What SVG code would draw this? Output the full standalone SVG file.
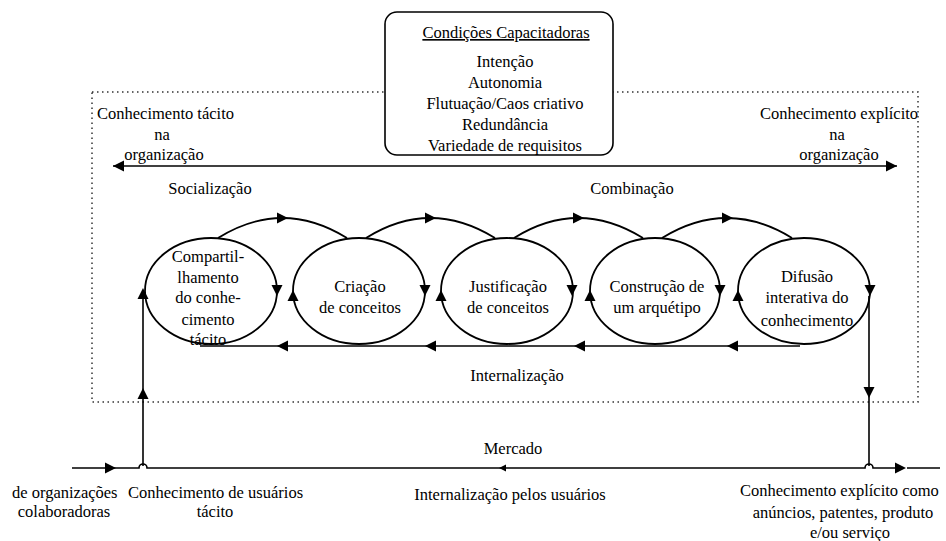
<svg xmlns="http://www.w3.org/2000/svg" width="946" height="541" viewBox="0 0 946 541">
<style>
text{font-family:'Liberation Serif','Times New Roman',serif;font-size:16.5px;fill:#000}
.m{text-anchor:middle}
.ln{stroke:#000;stroke-width:1.6;fill:none}
.el{stroke:#000;stroke-width:1.8;fill:none}
.dot{stroke:#333;stroke-width:1.5;fill:none;stroke-dasharray:1.5 3.5}
</style>
<defs>
<path id="ah" d="M0,0 L-11,-5.5 L-11,5.5 Z" fill="#000"/>
<path id="as" d="M0,0 L-7,-3.5 L-7,3.5 Z" fill="#000"/>
</defs>
<rect width="946" height="541" fill="#fff"/>
<rect id="frame" class="dot" x="92" y="92" width="826" height="310"/>
<g id="conditions">
<rect x="385" y="12" width="228" height="143" rx="12" fill="#fff" stroke="#000" stroke-width="1.6"/>
<text class="m" x="506" y="38" text-decoration="underline">Condições Capacitadoras</text>
<text class="m" x="505" y="67">Intenção</text>
<text class="m" x="505" y="88">Autonomia</text>
<text class="m" x="505" y="109">Flutuação/Caos criativo</text>
<text class="m" x="505" y="130">Redundância</text>
<text class="m" x="505" y="151">Variedade de requisitos</text>
</g>
<g id="tacit-org">
<text x="97" y="119">Conhecimento tácito</text>
<text class="m" x="162" y="140">na</text>
<text class="m" x="164" y="160">organização</text>
</g>
<g id="explicit-org">
<text x="760" y="119">Conhecimento explícito</text>
<text class="m" x="837" y="140">na</text>
<text class="m" x="839" y="160">organização</text>
</g>
<text class="m" x="210" y="194">Socialização</text>
<text class="m" x="632" y="194">Combinação</text>
<text class="m" x="517" y="381">Internalização</text>
<g id="n1">
<ellipse class="el" cx="211" cy="291" rx="66" ry="53"/>
<text class="m" x="208" y="262">Compartil-</text>
<text class="m" x="208" y="283">lhamento</text>
<text class="m" x="208" y="303">do conhe-</text>
<text class="m" x="208" y="325">cimento</text>
<text class="m" x="208" y="345">tácito</text>
</g>
<g id="n2">
<ellipse class="el" cx="359" cy="291" rx="66" ry="53"/>
<text class="m" x="360" y="292">Criação</text>
<text class="m" x="360" y="313">de conceitos</text>
</g>
<g id="n3">
<ellipse class="el" cx="507" cy="291" rx="66" ry="53"/>
<text class="m" x="508" y="292">Justificação</text>
<text class="m" x="508" y="313">de conceitos</text>
</g>
<g id="n4">
<ellipse class="el" cx="655" cy="291" rx="65" ry="53"/>
<text class="m" x="657" y="292">Construção de</text>
<text class="m" x="657" y="313">um arquétipo</text>
</g>
<g id="n5">
<ellipse class="el" cx="804" cy="291" rx="66" ry="53"/>
<text class="m" x="807" y="282">Difusão</text>
<text class="m" x="807" y="303">interativa do</text>
<text class="m" x="807" y="326">conhecimento</text>
</g>
<g id="connectors">
<line class="ln" x1="113" y1="166" x2="897" y2="166"/>
<use href="#ah" transform="translate(897,166)"/>
<use href="#ah" transform="translate(113,166) rotate(180)"/>
<path class="el" d="M218,238 Q282,198 347,238"/>
<path class="el" d="M366,238 Q430,198 495,238"/>
<path class="el" d="M514,238 Q578,198 643,238"/>
<path class="el" d="M662,238 Q727,198 792,238"/>
<use href="#ah" transform="translate(288,218)"/>
<use href="#ah" transform="translate(436,218)"/>
<use href="#ah" transform="translate(584,218)"/>
<use href="#ah" transform="translate(733,218)"/>
<use href="#ah" transform="translate(277,296) rotate(90)"/>
<use href="#ah" transform="translate(425,296) rotate(90)"/>
<use href="#ah" transform="translate(572,296) rotate(90)"/>
<use href="#ah" transform="translate(720,296) rotate(90)"/>
<use href="#ah" transform="translate(870,296) rotate(90)"/>
<use href="#ah" transform="translate(293,290) rotate(-90)"/>
<use href="#ah" transform="translate(441,290) rotate(-90)"/>
<use href="#ah" transform="translate(590,290) rotate(-90)"/>
<use href="#ah" transform="translate(738,290) rotate(-90)"/>
<line class="ln" x1="200" y1="346" x2="800" y2="346"/>
<use href="#ah" transform="translate(277,346) rotate(180)"/>
<use href="#ah" transform="translate(425,346) rotate(180)"/>
<use href="#ah" transform="translate(574,346) rotate(180)"/>
<use href="#ah" transform="translate(727,346) rotate(180)"/>
<line class="ln" x1="143" y1="466" x2="143" y2="295"/>
<use href="#ah" transform="translate(143,288) rotate(-90)"/>
<use href="#ah" transform="translate(143,388) rotate(-90)"/>
<line class="ln" x1="869" y1="296" x2="869" y2="466"/>
<use href="#ah" transform="translate(869,398) rotate(90)"/>
<path class="ln" d="M72,468 H139 a4,4 0 0 1 8,0 H865 a4,4 0 0 1 8,0 H903"/>
<line class="ln" x1="907" y1="468" x2="940" y2="468"/>
<use href="#ah" transform="translate(116,468)"/>
<use href="#as" transform="translate(499,468) rotate(180)"/>
<use href="#ah" transform="translate(906,468)"/>
</g>
<text class="m" x="513" y="454">Mercado</text>
<text class="m" x="510" y="500">Internalização pelos usuários</text>
<g id="collab">
<text x="12" y="498">de organizações</text>
<text class="m" x="64" y="517">colaboradoras</text>
</g>
<g id="users-tacit">
<text x="128" y="498">Conhecimento de usuários</text>
<text class="m" x="215" y="517">tácito</text>
</g>
<g id="explicit-market">
<text x="740" y="496">Conhecimento explícito como</text>
<text class="m" x="843" y="518">anúncios, patentes, produto</text>
<text class="m" x="850" y="538">e/ou serviço</text>
</g>
</svg>
